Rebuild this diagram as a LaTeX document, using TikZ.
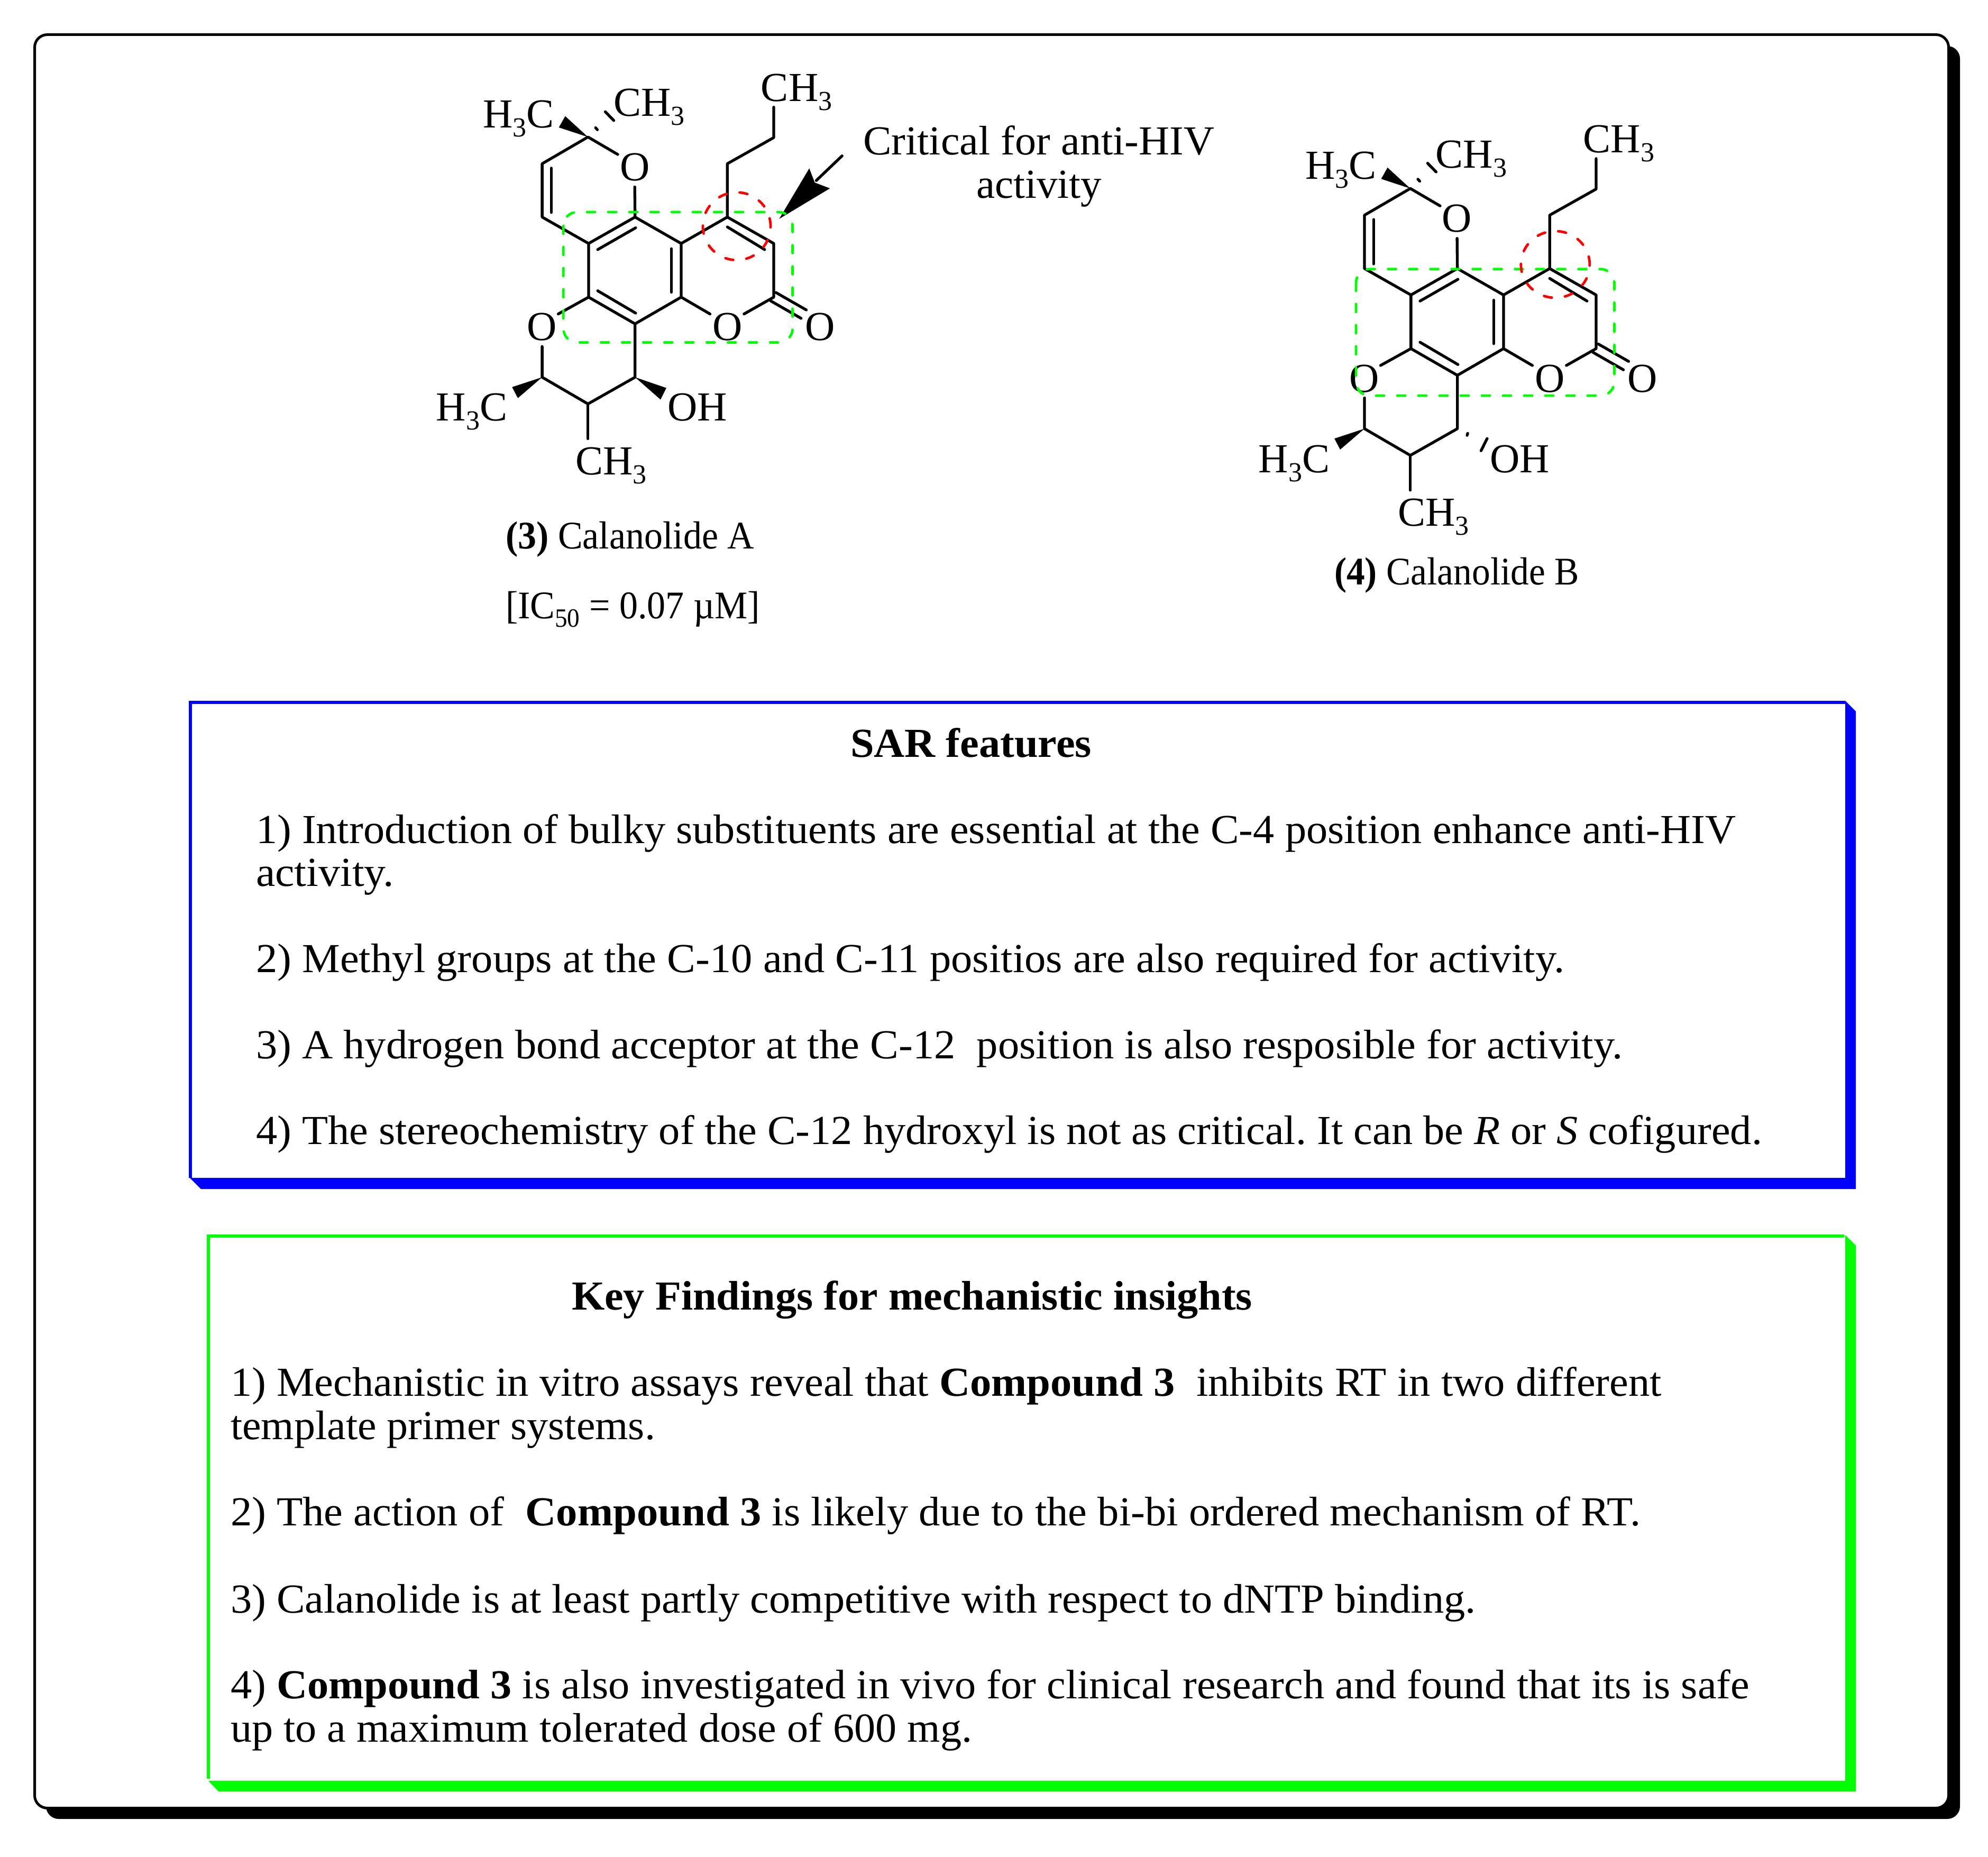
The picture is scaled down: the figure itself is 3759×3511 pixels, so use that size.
\documentclass[tikz,border=0pt]{standalone}
\usepackage{fontspec}
\usepackage{graphicx}
\setmainfont{Liberation Serif}
\AtBeginDocument{\frenchspacing}
\newcommand\subthree{\raisebox{-17pt}{\fontsize{52}{52}\selectfont 3}}
\newcommand\methyl{CH\subthree}
\newcommand\revmethyl{H\subthree C}
\newcommand\tline[5]{\node[txt] (#1) at (#2,#3) {\resizebox{#4pt}{\height}{#5}};}
\tikzset{
  x=1pt,y=-1pt,
  txt/.style={inner sep=0pt,outer sep=0pt,anchor=base west,yshift=-2pt,font=\fontsize{78}{82}\selectfont},
  captext/.style={txt,font=\fontsize{74}{82}\selectfont},
  atomlabel/.style={txt,anchor=base},
  bond/.style={line width=5.3pt,line cap=round,line join=round,black},
  wedge/.style={fill=black,draw=none},
  greenbox/.style={line width=4.8pt,line cap=round,draw={rgb,255:red,0;green,255;blue,0},dash pattern=on 15pt off 25pt,rounded corners=26pt},
  redring/.style={line width=4.8pt,line cap=round,draw={rgb,255:red,255;green,0;blue,0},dash pattern=on 15pt off 25pt},
  molscope/.style={x=.574pt,y=-.5485pt},
}
\newcommand\calcore{%
  \coordinate (a) at (578,290); \coordinate (b) at (427,382); \coordinate (c) at (427,566);
  \coordinate (d) at (580,657); \coordinate (e) at (733,566); \coordinate (f) at (885,657);
  \coordinate (g) at (885,842); \coordinate (h) at (733,934); \coordinate (i) at (580,842);
  \coordinate (j) at (1037,566); \coordinate (k) at (1190,657); \coordinate (l) at (1190,842);
  \coordinate (m) at (733,1118); \coordinate (n) at (578,1210); \coordinate (p) at (427,1118);
  \coordinate (q) at (1037,382); \coordinate (r) at (1190,292);
  \node[txt] (hc1) at (232,254) {\revmethyl};
  \node[txt] (ch1) at (662,215) {\methyl};
  \node[txt] (ch2) at (1148,163) {\methyl};
  \node[atomlabel] (o1) at (732,437) {O};
  \node[atomlabel] (o2) at (427,988) {O};
  \node[atomlabel] (o3) at (1037,988) {O};
  \node[atomlabel] (o4) at (1343,988) {O};
  \node[txt] (hc2) at (78,1265) {\revmethyl};
  \node[txt] (oh) at (840,1265) {OH};
  \node[txt] (ch3) at (537,1450) {\methyl};
  \coordinate (o1a) at (676,350); \coordinate (o1b) at (732,462);
  \coordinate (o2a) at (480,900); \coordinate (o2b) at (427,1012);
  \coordinate (o3a) at (980,900); \coordinate (o3b) at (1092,900);
  \coordinate (ch2e) at (1190,187); \coordinate (ch3e) at (578,1330);
  \draw[bond] (o1a) -- (a) -- (b) -- (c) -- (d) -- (e) -- (f) -- (g) -- (h) -- (i) -- (d);
  \draw[bond] (e) -- (o1b);
  \draw[bond] (f) -- (j) -- (k) -- (l) -- (o3b);
  \draw[bond] (g) -- (o3a);
  \draw[bond] (i) -- (o2a);
  \draw[bond] (o2b) -- (p) -- (n) -- (m) -- (h);
  \draw[bond] (n) -- (ch3e);
  \draw[bond] (j) -- (q) -- (r) -- (ch2e);
  \coordinate (i1a) at (457,397); \coordinate (i1b) at (457,550);
  \coordinate (i2a) at (610,678); \coordinate (i2b) at (735,603);
  \coordinate (i3a) at (853,675); \coordinate (i3b) at (853,825);
  \coordinate (i4a) at (610,820); \coordinate (i4b) at (735,897);
  \coordinate (i5a) at (1037,600); \coordinate (i5b) at (1160,678);
  \coordinate (co1a) at (1197,826); \coordinate (co1b) at (1297,886);
  \coordinate (co2a) at (1180,855); \coordinate (co2b) at (1280,915);
  \draw[bond] (i1a) -- (i1b);
  \draw[bond] (i2a) -- (i2b);
  \draw[bond] (i3a) -- (i3b);
  \draw[bond] (i4a) -- (i4b);
  \draw[bond] (i5a) -- (i5b);
  \draw[bond] (co1a) -- (co1b);
  \draw[bond] (co2a) -- (co2b);
  \coordinate (w1a) at (503,218); \coordinate (w1b) at (482,257);
  \coordinate (w2a) at (328,1152); \coordinate (w2b) at (347,1190);
  \fill[wedge] (a) -- (w1a) -- (w1b) -- cycle;
  \fill[wedge] (p) -- (w2a) -- (w2b) -- cycle;
  \coordinate (h1a) at (603,258); \coordinate (h1b) at (609,265);
  \coordinate (h2a) at (635,203); \coordinate (h2b) at (663,233);
  \draw[bond] (h1a) -- (h1b);
  \draw[bond] (h2a) -- (h2b);
}
\begin{document}
\begin{tikzpicture}
\useasboundingbox (0,0) rectangle (3759,3511);
\fill[white] (0,0) rectangle (3759,3511);
% outer frame
\fill[black,rounded corners=24pt] (87,87) rectangle (3706,3439);
\draw[line width=5pt,fill=white,rounded corners=24pt] (65.5,65.5) rectangle (3684.5,3418.5);
% molecule A
\begin{scope}[shift={(780,100)},molscope,name prefix=A-]
  \calcore
  \coordinate (w3a) at (836,1155); \coordinate (w3b) at (817,1195);
  \fill[wedge] (m) -- (w3a) -- (w3b) -- cycle;
  \coordinate (arrowtail) at (1415,355); \coordinate (arrowneck) at (1330,440);
  \draw[bond] (arrowtail) -- (arrowneck);
  \coordinate (at) at (1208,572); \coordinate (ab1) at (1307,398); \coordinate (an) at (1325,447); \coordinate (ab2) at (1375,467);
  \fill[wedge] (at) -- (ab1) -- (an) -- (ab2) -- cycle;
\end{scope}
% molecule B
\begin{scope}[shift={(1554.9,97.3)}]
\begin{scope}[shift={(780,100)},molscope,name prefix=B-]
  \calcore
  \coordinate (h3a) at (767,1134); \coordinate (h3b) at (765,1141);
  \coordinate (h4a) at (831,1152); \coordinate (h4b) at (811,1194);
  \draw[bond] (h3a) -- (h3b);
  \draw[bond] (h4a) -- (h4b);
\end{scope}
\end{scope}
% highlights
\draw[greenbox] (1065.3,401) rectangle (1498.6,647.4);
\draw[greenbox] (2564,508.8) rectangle (3052.4,748);
\draw[redring] (1393,427.7) circle [radius=64pt];
\draw[redring] (2940.8,500) ellipse [x radius=65pt,y radius=63pt];
% labels
\tline{crit}{1632}{290}{664}{Critical for anti-HIV}
\tline{crit2}{1846}{372}{237}{activity}
\node[captext] (capA) at (956,1035) {\resizebox{470pt}{\height}{\textbf{(3)} Calanolide A}};
\node[captext] (capIC) at (956,1167) {\resizebox{481pt}{\height}{[IC\raisebox{-16pt}{\fontsize{50}{50}\selectfont 50} = 0.07 µM]}};
\node[captext] (capB) at (2523,1103) {\resizebox{463pt}{\height}{\textbf{(4)} Calanolide B}};
% blue box
\draw[line width=6pt,draw={rgb,255:red,0;green,0;blue,255}] (3489,1328) -- (359.5,1328) -- (359.5,2227);
\fill[fill={rgb,255:red,0;green,0;blue,255}] (3489,1325) -- (3509,1345) -- (3509,2248) -- (380,2248) -- (359,2227) -- (3489,2227) -- cycle;
\tline{s0}{1608}{1429}{456}{\textbf{SAR features}}
\tline{s1}{484}{1592}{2798}{1) Introduction of bulky substituents are essential at the C-4 position enhance anti-HIV}
\tline{s1b}{484}{1673.6}{261}{activity.}
\tline{s2}{484}{1836}{2474}{2) Methyl groups at the C-10 and C-11 positios are also required for activity.}
\tline{s3}{484}{1999}{2584}{3) A hydrogen bond acceptor at the C-12\ \ position is also resposible for activity.}
\tline{s4}{484}{2161}{2848}{4) The stereochemistry of the C-12 hydroxyl is not as critical. It can be \textit{R} or \textit{S} cofigured.}
% green box
\draw[line width=6pt,draw={rgb,255:red,0;green,255;blue,0}] (3487,2337) -- (394,2337) -- (394,3363);
\fill[fill={rgb,255:red,0;green,255;blue,0}] (3489,2335) -- (3509,2355) -- (3509,3387) -- (413,3387) -- (394,3367) -- (3489,3367) -- cycle;
\tline{k0}{1081}{2474}{1287}{\textbf{Key Findings for mechanistic insights}}
\tline{k1}{436}{2637.6}{2706}{1) Mechanistic in vitro assays reveal that \textbf{Compound 3}\ \ inhibits RT in two different}
\tline{k1b}{436}{2719}{803}{template primer systems.}
\tline{k2}{436}{2882}{2666}{2) The action of\ \ \textbf{Compound 3} is likely due to the bi-bi ordered mechanism of RT.}
\tline{k3}{436}{3047}{2354}{3) Calanolide is at least partly competitive with respect to dNTP binding.}
\tline{k4}{436}{3209}{2872}{4) \textbf{Compound 3} is also investigated in vivo for clinical research and found that its is safe}
\tline{k4b}{436}{3291}{1402}{up to a maximum tolerated dose of 600 mg.}
\end{tikzpicture}
\end{document}
